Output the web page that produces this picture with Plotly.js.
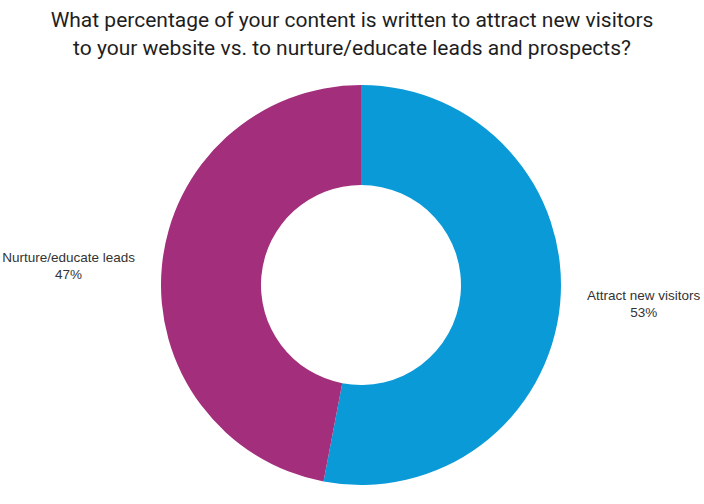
<!DOCTYPE html>
<html>
<head>
<meta charset="utf-8">
<script src="https://cdn.plot.ly/plotly-3.0.1.min.js"></script>
<style>
  html, body { margin: 0; padding: 0; background: #fff; }
  #chart { width: 704px; height: 504px; }
</style>
</head>
<body>
<div id="chart"></div>
<script>
// slices
const sliceLabels = ['Attract new visitors', 'Nurture/educate leads'];
const sliceValues = [53, 47];
const sliceColors = ['#0A9AD8', '#A22E7C'];

const chartTitle = 'What percentage of your content is written to attract new visitors<br>to your website vs. to nurture/educate leads and prospects?';

// non-breaking spaces push the outside labels a bit away from the ring
const pad = '\u00A0\u00A0\u00A0\u00A0\u00A0';
const labelTemplates = [
    pad + '%{label}<br>' + pad + '%{percent:.0%}',
    '%{label}' + pad + '<br>%{percent:.0%}' + pad
];

var donut = {
    type: 'pie',
    labels: sliceLabels,
    values: sliceValues,
    hole: 0.5,
    sort: false,
    direction: 'clockwise',
    rotation: 0,
    marker: {
        colors: sliceColors,
        line: { width: 0 }
    },
    texttemplate: labelTemplates,
    textposition: 'outside',
    outsidetextfont: {
        family: 'Liberation Sans, Arial, sans-serif',
        size: 13.5,
        color: '#333333'
    },
    automargin: false,
    showlegend: false,
    hoverinfo: 'label+percent'
};

var layout = {
    width: 704,
    height: 504,
    title: {
        text: chartTitle,
        font: {
            family: 'Roboto, sans-serif',
            size: 21,
            color: '#1e1e1e'
        },
        x: 0.5,
        xanchor: 'center',
        y: 0.946,
        yanchor: 'top'
    },
    margin: { l: 18, r: 0, t: 85, b: 19 },
    paper_bgcolor: '#ffffff',
    plot_bgcolor: '#ffffff',
    showlegend: false
};

Plotly.newPlot('chart', [donut], layout, { displayModeBar: false, staticPlot: true });
</script>
</body>
</html>
